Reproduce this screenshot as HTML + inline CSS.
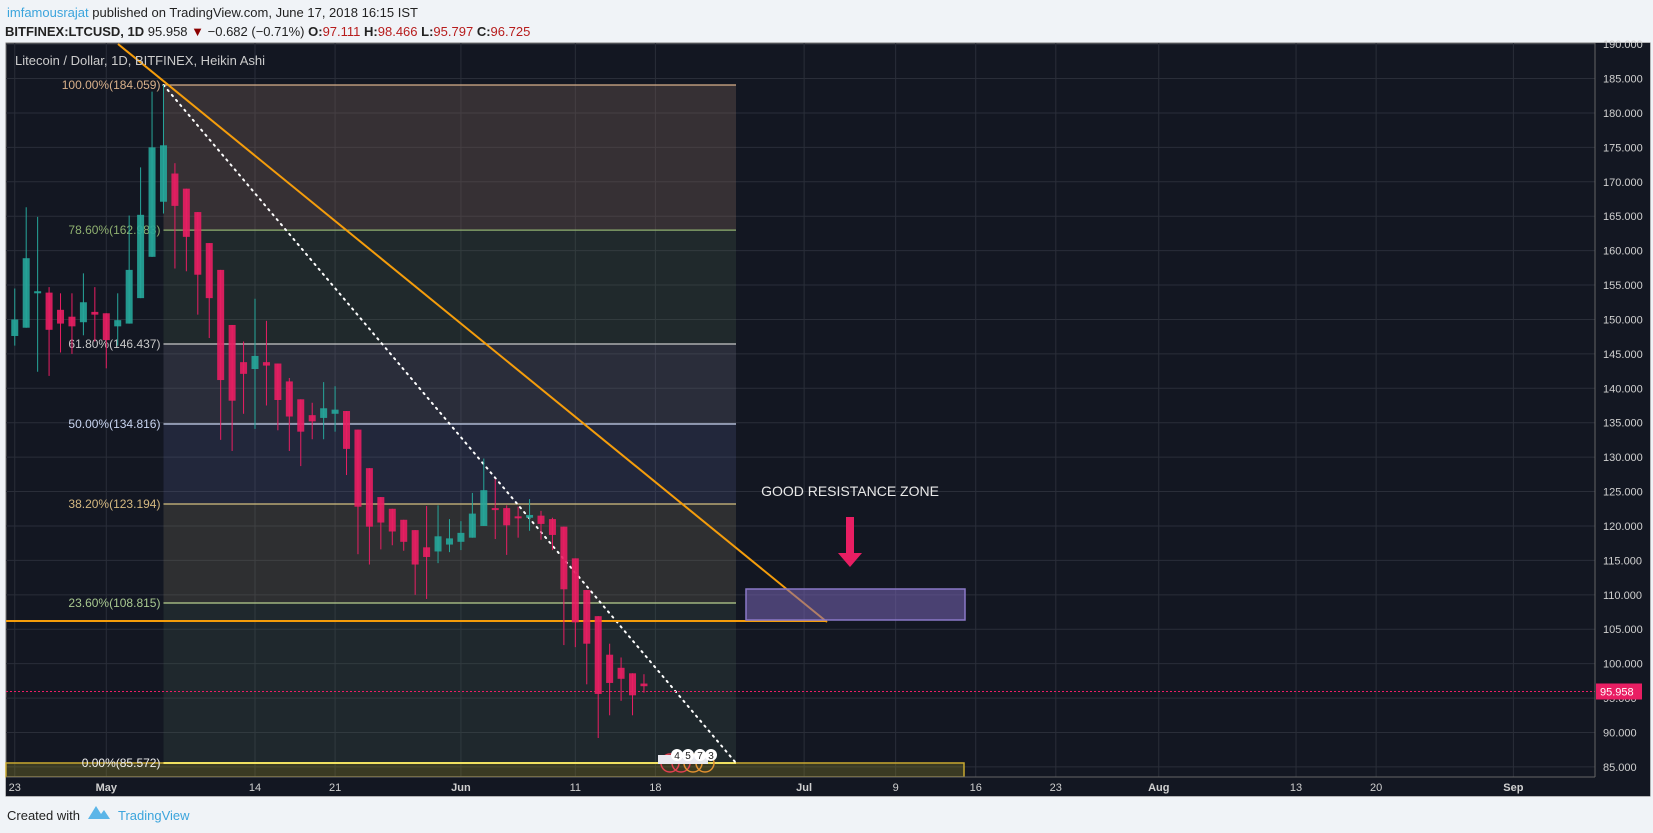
<!DOCTYPE html>
<html><head><meta charset="utf-8"><style>
html,body{margin:0;padding:0;background:#f0f3f7;width:1653px;height:833px;overflow:hidden;font-family:"Liberation Sans",sans-serif}
svg{position:absolute;left:0;top:0}
</style></head><body>
<svg id="c" width="1653" height="833" viewBox="0 0 1653 833" xmlns="http://www.w3.org/2000/svg">
<text x="7" y="17" font-size="13" fill="#222"><tspan fill="#3ba4dc">imfamousrajat</tspan> published on TradingView.com, June 17, 2018 16:15 IST</text>
<text x="5" y="36" font-size="13" fill="#222"><tspan font-weight="bold">BITFINEX:LTCUSD, 1D</tspan> 95.958 <tspan fill="#8b0000">▼</tspan> −0.682 (−0.71%) <tspan font-weight="bold">O:</tspan><tspan fill="#b71c1c">97.111</tspan> <tspan font-weight="bold">H:</tspan><tspan fill="#b71c1c">98.466</tspan> <tspan font-weight="bold">L:</tspan><tspan fill="#b71c1c">95.797</tspan> <tspan font-weight="bold">C:</tspan><tspan fill="#b71c1c">96.725</tspan></text>
<rect x="6" y="43" width="1644" height="753" fill="#131722" stroke="#777" stroke-width="1"/>
<g id="grid"></g>
<g id="fib"></g>
<g id="draw"></g>
<g id="candles"></g>
<g id="axes"></g>
<text x="15" y="65" font-size="13" fill="#ccc">Litecoin / Dollar, 1D, BITFINEX, Heikin Ashi</text>
<text x="7" y="820" font-size="13" fill="#222">Created with</text>
<path d="M88 819 L96 806 L101 814 L104 810 L110 819 Z" fill="#5bb5e8"/>
<text x="118" y="820" font-size="13" fill="#3ba4dc">TradingView</text>
</svg>
<script>
const opens=[147.6,148.8,153.8,153.9,151.4,150.4,149.6,151.1,150.9,149.0,149.4,153.1,159.1,167.1,171.2,169.0,165.6,161.1,157.2,149.2,143.8,142.8,143.8,143.6,141.0,138.4,136.1,135.7,136.3,136.7,134.0,128.4,124.2,122.5,120.9,119.4,116.9,116.3,117.3,117.7,118.3,120.0,122.6,122.6,121.4,121.2,121.5,121.0,119.9,115.3,110.7,106.9,101.3,99.4,98.6,97.111];
const closes=[150.0,158.9,154.1,148.5,149.4,149.0,152.5,150.7,147.0,149.9,157.2,165.2,175.0,175.3,166.5,162.0,156.5,153.1,141.2,138.2,142.1,144.7,143.3,138.3,135.9,133.7,135.2,137.1,136.9,131.2,122.8,119.9,120.5,119.2,117.7,114.4,115.5,118.5,118.2,119.0,121.8,125.2,122.4,120.1,121.2,121.6,120.3,118.7,110.8,106.0,102.9,95.6,97.2,97.8,95.4,96.725];
const highs=[154.5,166.3,164.9,154.7,153.8,153.8,156.7,154.7,150.9,153.8,165.1,172.1,183.1,184.06,172.7,169.0,165.6,161.1,157.2,149.2,146.8,153.0,149.8,143.6,141.5,138.4,137.9,140.9,140.3,136.7,134.0,128.4,124.2,122.5,120.9,119.4,122.9,123.0,121.0,120.7,124.8,129.8,126.8,123.0,122.8,123.9,122.2,121.2,119.9,115.3,110.7,106.9,102.9,100.9,98.6,98.466];
const lows=[146.2,148.8,142.4,141.8,145.2,145.0,147.7,146.8,142.9,146.2,149.4,153.1,159.1,165.4,157.4,157.0,150.7,147.3,132.5,130.9,136.3,134.1,137.5,133.9,130.9,128.7,132.6,132.6,133.7,127.4,115.9,114.4,116.6,117.2,116.4,110.0,109.4,114.6,116.2,116.5,118.3,120.0,118.1,115.8,118.3,119.3,118.0,116.5,102.7,102.4,97.0,89.2,92.5,94.6,92.5,95.797];
const priceTicks=[85,90,95,100,105,110,115,120,125,130,135,140,145,150,155,160,165,170,175,180,185,190];
const dateLabels=["23","May","14","21","Jun","11","18","Jul","9","16","23","Aug","13","20","Sep"];
const dateDays=[0,8,21,28,39,49,56,69,77,84,91,100,112,119,131];
const fibLevels=[1,0.786,0.618,0.5,0.382,0.236,0];
const fibHigh=184.059, fibLow=85.572;
const lastPrice=95.958;

const NS="http://www.w3.org/2000/svg";
const X0=6,X1=1595,Y0=43,Y1=777;
function y(p){return 85+(184.059-p)*6.884;}
function x(d){return 14.76+d*11.44;}
function mk(parent,tag,attrs){const e=document.createElementNS(NS,tag);for(const k in attrs)e.setAttribute(k,attrs[k]);document.getElementById(parent).appendChild(e);return e;}

priceTicks.forEach(p=>{
 const l=mk('grid','line',{x1:X0,x2:X1,y1:y(p),y2:y(p),stroke:'#2a2e39','stroke-width':1});
 
 
});
dateDays.forEach(d=>{
 const l=mk('grid','line',{x1:x(d),x2:x(d),y1:Y0,y2:Y1,stroke:'#2a2e39','stroke-width':1});
 
 
});

const fx0=x(13),fx1=736;
const bandFill=['rgba(120,95,85,0.35)','rgba(80,110,80,0.22)','rgba(110,110,130,0.25)','rgba(90,100,150,0.22)','rgba(120,110,90,0.28)','rgba(80,110,90,0.2)'];
const lineCol=['#d8b08a','#8fb070','#c8c8c8','#c8d4f0','#d4c080','#b8d090','#f0e060'];
const labCol=['#d8b08a','#8fb070','#c8c8c8','#c8d4f0','#d4b880','#a8c890','#f0f0f0'];
const lev=fibLevels.map(f=>fibLow+(fibHigh-fibLow)*f);
for(let i=0;i<lev.length-1;i++){
 const r=mk('fib','rect',{x:fx0,y:y(lev[i]),width:fx1-fx0,height:y(lev[i+1])-y(lev[i]),fill:bandFill[i]});
 
 
}
const yb=mk('fib','rect',{x:X0,y:y(fibLow),width:964-X0,height:Y1-y(fibLow),fill:'rgba(150,140,40,0.3)',stroke:'#c8a830','stroke-width':1.5});


lev.forEach((p,i)=>{
 const l=mk('fib','line',{x1:fx0,x2:fx1,y1:y(p),y2:y(p),stroke:lineCol[i],'stroke-width':i==6?2:1.2});
 
 
 const t=mk('fib','text',{x:fx0-3,y:y(p)+4,'text-anchor':'end','font-size':12,fill:labCol[i]});
 t.textContent=(fibLevels[i]*100).toFixed(2)+'%('+(p+1e-6).toFixed(3)+')';
 
 
});

let e;
e=mk('draw','line',{x1:x(13),y1:y(fibHigh),x2:736,y2:763,stroke:'#fff','stroke-width':2,'stroke-dasharray':'1.5 5','stroke-linecap':'round'});


e=mk('draw','line',{x1:118,y1:44,x2:827,y2:622,stroke:'#f59d0b','stroke-width':2});


e=mk('draw','line',{x1:X0,y1:621,x2:827,y2:621,stroke:'#f59d0b','stroke-width':2});


e=mk('draw','rect',{x:746,y:589,width:219,height:31,fill:'rgba(120,100,180,0.55)',stroke:'#8a78c8','stroke-width':1.5});


e=mk('draw','text',{x:850,y:496,'text-anchor':'middle','font-size':14,fill:'#e8e8e8'});
e.textContent='GOOD RESISTANCE ZONE';


e=mk('draw','path',{d:'M846 517 H854 V553 H862 L850 567 L838 553 H846 Z',fill:'#e91e63'});


e=mk('draw','line',{x1:X0,x2:X1,y1:y(lastPrice),y2:y(lastPrice),stroke:'#e91e63','stroke-width':1,'stroke-dasharray':'2 2'});



[["4",676],["5",687],["7",699],["3",711]].forEach(([t,cx],i)=>{
 const c=mk('draw','circle',{cx:cx-6,cy:763,r:9,fill:'none',stroke:i<2?'#e04050':'#e09030','stroke-width':1.5});
 
 
});
e=mk('draw','rect',{x:658,y:755,width:50,height:9,fill:'#e9e9f0'});


[["4",677],["5",688],["7",700],["3",711]].forEach(([t,cx])=>{
 const c=mk('draw','circle',{cx:cx,cy:755,r:6,fill:'#fff'});
 
 
 const tx=mk('draw','text',{x:cx,y:759,'text-anchor':'middle','font-size':10,fill:'#222'});
 tx.textContent=t;
 
 
});

opens.forEach((o,i)=>{
 const c=closes[i],up=c>=o,col=up?'#26a69a':'#e91e63';
 const cx=x(i);
 const w=mk('candles','line',{x1:cx,x2:cx,y1:y(highs[i]),y2:y(lows[i]),stroke:col,'stroke-width':1});
 
 
 const top=y(Math.max(o,c)),h=Math.max(2,Math.abs(y(o)-y(c)));
 const b=mk('candles','rect',{x:cx-3.5,y:top,width:7,height:h,fill:col,'fill-opacity':0.9});
 
 
});

e=mk('axes','rect',{x:X1,y:Y0,width:1650-X1,height:796-Y0,fill:'#131722'});


e=mk('axes','rect',{x:X0,y:Y1,width:X1-X0,height:796-Y1,fill:'#131722'});


e=mk('axes','line',{x1:X1,x2:X1,y1:Y0,y2:Y1,stroke:'#666'});


e=mk('axes','line',{x1:X0,x2:X1,y1:Y1,y2:Y1,stroke:'#666'});


priceTicks.forEach(p=>{
 if(y(p)<Y0)return;
 const t=mk('axes','text',{x:1603,y:y(p)+4,'font-size':11,fill:'#d0d0d0'});
 t.textContent=p.toFixed(3);
 
 
});
const lb=mk('axes','rect',{x:1596,y:y(lastPrice)-8,width:46,height:16,fill:'#e91e63'});


const lt=mk('axes','text',{x:1600,y:y(lastPrice)+4,'font-size':11,fill:'#fff'});
lt.textContent=lastPrice.toFixed(3);


dateLabels.forEach((s,i)=>{
 const t=mk('axes','text',{x:x(dateDays[i]),y:791,'text-anchor':'middle','font-size':11,fill:'#d0d0d0','font-weight':isNaN(+s)?'bold':'normal'});
 t.textContent=s;
 
 
});
</script>
</body></html>
